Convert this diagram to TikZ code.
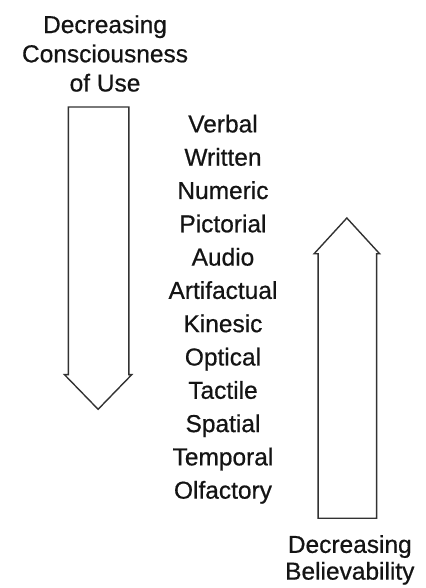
\documentclass[tikz,border=0pt]{standalone}
\usepackage{fontspec}
\setmainfont{Liberation Sans}[BoldFont={Liberation Sans}, BoldFeatures={FakeBold=0.6}]
\begin{document}
\begin{tikzpicture}[x=1pt,y=-1pt]

            % Definindo cores
            \definecolor{linecol}{RGB}{50, 50, 50}   % Cinza escuro das setas
            \definecolor{textcol}{RGB}{20, 20, 20}   % Quase preto para o texto

            % 0. Moldura (fundo branco)
            \fill[white] (0,0) rectangle (429,588);

            % 1. Seta para baixo (esquerda)
            \draw[linecol, line width=1.4pt, line join=miter]
                (69,108) -- (130,108) -- (130,378) -- (133,378) -- (99,413)
                -- (65,378) -- (69,378) -- cycle;

            % 2. Seta para cima (direita)
            \draw[linecol, line width=1.4pt, line join=miter]
                (321,523) -- (380,523) -- (380,256) -- (383,256) -- (350,220)
                -- (317,256) -- (321,256) -- cycle;

            % 3. Texto superior (esquerda)
            \node[textcol, align=center, font=\fontsize{24.7}{29.5}\selectfont\bfseries] (topo) at (106, 54) {
                Decreasing \\
                Consciousness \\
                of Use
            };

            % 4. Lista central
            \node[textcol, align=center, font=\fontsize{24.7}{33.6}\selectfont\bfseries] (lista) at (225, 312) {
                Verbal \\ Written \\ Numeric \\ Pictorial \\ Audio \\ Artifactual \\
                Kinesic \\ Optical \\ Tactile \\ Spatial \\ Temporal \\ Olfactory
            };

            % 5. Texto inferior (direita)
            \node[textcol, align=center, font=\fontsize{24.7}{27}\selectfont\bfseries] (base) at (353, 565) {
                Decreasing \\
                Believability
            };

            \end{tikzpicture}
\end{document}
